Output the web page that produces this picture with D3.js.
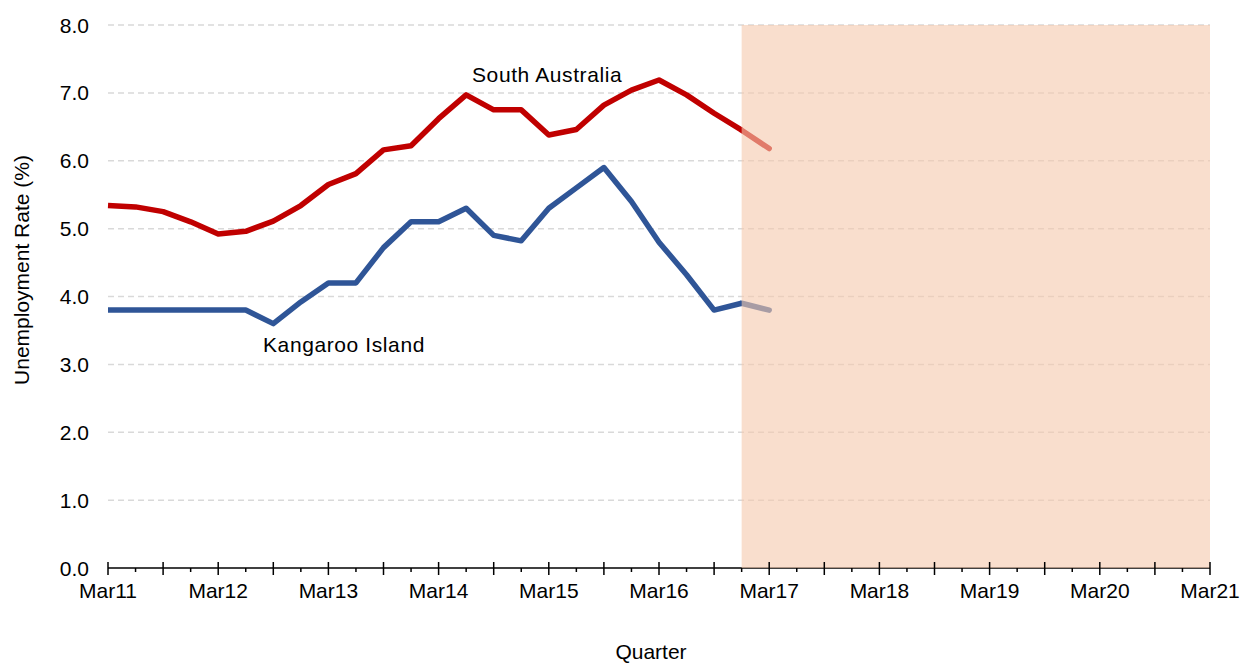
<!DOCTYPE html>
<html>
<head>
<meta charset="utf-8">
<script src="https://cdn.jsdelivr.net/npm/d3@7"></script>
<style>
  body { margin: 0; background: #fff; }
  svg text { font-family: "Liberation Sans", Arial, sans-serif; fill: #000; }
</style>
</head>
<body>
<svg id="chart"></svg>
<script>
// quarterly unemployment rate, Mar11 .. Mar17
var southAustralia = [5.34, 5.32, 5.25, 5.1, 4.92, 4.96, 5.11, 5.34, 5.65, 5.81, 6.16, 6.22,
                      6.62, 6.97, 6.75, 6.75, 6.38, 6.46, 6.82, 7.04, 7.19, 6.97, 6.7, 6.45, 6.18];
var kangarooIsland = [3.8, 3.8, 3.8, 3.8, 3.8, 3.8, 3.6, 3.92, 4.2, 4.2, 4.72, 5.1,
                      5.1, 5.3, 4.9, 4.82, 5.3, 5.6, 5.9, 5.4, 4.8, 4.32, 3.8, 3.9, 3.8];
var yearLabels = ["Mar11", "Mar12", "Mar13", "Mar14", "Mar15", "Mar16", "Mar17", "Mar18", "Mar19", "Mar20", "Mar21"];
var yTicks = [0, 1, 2, 3, 4, 5, 6, 7, 8];
var forecastStart = 23; // Dec16, shaded from here to the end
var totalQuarters = 40;

var width = 1240, height = 666;
var plotLeft = 108, plotRight = 1210, plotTop = 25, plotBottom = 568;

var svg = d3.select('#chart')
            .attr('width', width)
            .attr('height', height);

var x = d3.scaleLinear().domain([0, totalQuarters]).range([plotLeft, plotRight]);
var y = d3.scaleLinear().domain([0, 8]).range([plotBottom, plotTop]);

// gridlines
svg.append("g")
  .selectAll("line")
  .data(yTicks.slice(1))
  .enter().append("line")
    .attr("x1", plotLeft).attr("x2", plotRight)
    .attr("y1", d => y(d)).attr("y2", d => y(d))
    .attr("stroke", "#d9d9d9")
    .attr("stroke-width", 1.5)
    .attr("stroke-dasharray", "6,4");

// y tick labels (no axis line)
svg.append("g")
  .selectAll("text")
  .data(yTicks)
  .enter().append("text")
    .attr("x", 89)
    .attr("y", d => y(d))
    .attr("dy", "0.36em")
    .attr("text-anchor", "end")
    .style("font-size", "21px")
    .text(d => d.toFixed(1));

// x axis line (goes under the shading)
svg.append("line")
  .attr("x1", plotLeft).attr("x2", plotRight)
  .attr("y1", plotBottom).attr("y2", plotBottom)
  .attr("stroke", "#000")
  .attr("stroke-width", 1.5);

var line = d3.line()
  .x((d, i) => x(i))
  .y(d => y(d));

function drawSeries(values, color) {
  svg.append("path")
    .datum(values.slice(0, forecastStart + 1))
    .attr("fill", "none")
    .attr("stroke", color)
    .attr("stroke-width", 5.5)
    .attr("stroke-linejoin", "round")
    .attr("d", line);
  // forecast tail
  var tail = d3.line().x((d, i) => x(i + forecastStart)).y(d => y(d));
  svg.append("path")
    .datum(values.slice(forecastStart))
    .attr("fill", "none")
    .attr("stroke", color)
    .attr("stroke-width", 5.5)
    .attr("stroke-linecap", "round")
    .attr("d", tail);
}

drawSeries(southAustralia, "#c00000");
drawSeries(kangarooIsland, "#2f5597");

// shaded forecast period drawn over the lines
svg.append("rect")
  .attr("x", x(forecastStart))
  .attr("y", plotTop)
  .attr("width", x(totalQuarters) - x(forecastStart))
  .attr("height", plotBottom - plotTop)
  .attr("fill", "#f5c9ad")
  .attr("opacity", 0.61);

// ticks on top
var quarters = d3.range(totalQuarters + 1);
svg.append("g")
  .selectAll("line")
  .data(quarters)
  .enter().append("line")
    .attr("x1", d => x(d)).attr("x2", d => x(d))
    .attr("y1", d => d % 2 === 0 ? plotBottom - 6 : plotBottom)
    .attr("y2", d => d % 2 === 0 ? plotBottom + 7 : plotBottom + 4)
    .attr("stroke", "#000")
    .attr("stroke-width", 1.5);

svg.append("g")
  .selectAll("text")
  .data(yearLabels)
  .enter().append("text")
    .attr("x", (d, i) => x(i * 4))
    .attr("y", 598)
    .attr("text-anchor", "middle")
    .style("font-size", "21px")
    .text(d => d);

// series labels
svg.append("text")
  .attr("x", 472).attr("y", 82)
  .style("font-size", "21px")
  .style("letter-spacing", "0.6px")
  .text("South Australia");

svg.append("text")
  .attr("x", 263).attr("y", 352)
  .style("font-size", "21px")
  .style("letter-spacing", "0.6px")
  .text("Kangaroo Island");

// axis titles
svg.append("text")
  .attr("transform", "rotate(-90)")
  .attr("x", -270)
  .attr("y", 29)
  .attr("text-anchor", "middle")
  .style("font-size", "21px")
  .text("Unemployment  Rate (%)");

svg.append("text")
  .attr("x", 651)
  .attr("y", 659)
  .attr("text-anchor", "middle")
  .style("font-size", "21px")
  .text("Quarter");
</script>
</body>
</html>
